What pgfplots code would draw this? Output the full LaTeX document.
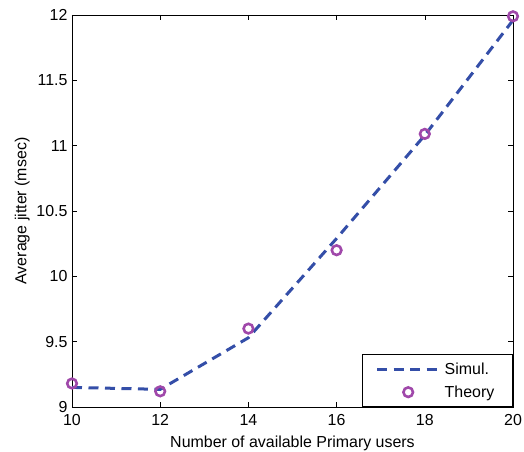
\documentclass[border=0pt]{standalone}
\usepackage{pgfplots}
\pgfplotsset{compat=1.18}
\usepackage{fontspec}
\setmainfont{Liberation Sans}
\definecolor{simblue}{RGB}{52,78,168}
\definecolor{thpurple}{RGB}{160,72,170}
\pgfplotsset{
  longline legend/.style={legend image code/.code={\draw[##1] (10bp,0bp) -- (74bp,0bp);
    \path (0bp,0bp) (74bp,0bp);}},
  midmark legend/.style={legend image code/.code={\draw[##1] plot coordinates {(41bp,0bp)};
    \path (0bp,0bp) (74bp,0bp);}},
}
\begin{document}
\begin{tikzpicture}
\useasboundingbox (-72bp,-45bp) rectangle (452bp,407bp);
\begin{axis}[
  scale only axis,
  width=441bp, height=392bp,
  xmin=10, xmax=20, ymin=9, ymax=12,
  xtick={10,12,...,20},
  ytick={9,9.5,...,12},
  yticklabels={9,9.5,10,10.5,11,11.5,12},
  tick align=inside,
  major tick length=5bp,
  axis line style={line width=0.8pt},
  tick style={black, line width=0.6pt},
  /pgf/number format/assume math mode=true,
  tick label style={font=\fontsize{16}{18}\selectfont},
  label style={font=\fontsize{16}{18}\selectfont},
  xticklabel style={yshift=-4bp},
  yticklabel style={xshift=-1bp},
  xlabel={Number of available Primary users},
  ylabel={Average jitter (msec)},
  xlabel style={yshift=-3bp},
  legend style={at={(1,0)}, anchor=south east, draw=black, line width=0.6pt,
    font=\fontsize{16}{18}\selectfont, cells={anchor=west},
    inner xsep=3bp, inner ysep=6bp, row sep=6bp},
  legend cell align=left,
]
\addplot[simblue, line width=3bp, dash pattern=on 10bp off 6.5bp, longline legend] coordinates {
  (10,9.15) (12,9.135) (14,9.53) (16,10.29) (18,11.08) (20,11.96)
};
\addlegendentry{\makebox[63bp][l]{Simul.}}
\addplot[only marks, thpurple, mark=o, mark size=4.8bp, line width=2.6bp, midmark legend] coordinates {
  (10,9.18) (12,9.12) (14,9.6) (16,10.2) (18,11.09) (20,11.99)
};
\addlegendentry{\makebox[63bp][l]{Theory}}
\end{axis}
\end{tikzpicture}
\end{document}
